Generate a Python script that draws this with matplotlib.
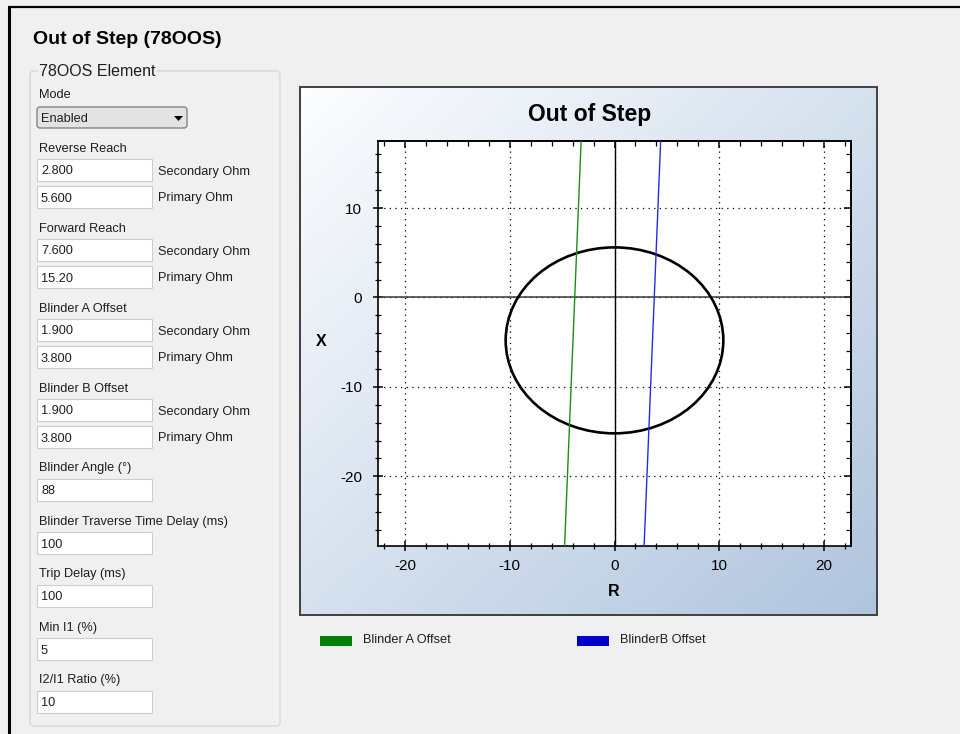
import numpy as np
import matplotlib.pyplot as plt
from matplotlib.patches import Rectangle, FancyBboxPatch, Circle, Polygon
from matplotlib.ticker import MultipleLocator

# Settings panel contents
page_title = "Out of Step (78OOS)"
group_title = "78OOS Element"
mode_value = "Enabled"
ohm_sections = ["Reverse Reach", "Forward Reach", "Blinder A Offset", "Blinder B Offset"]
secondary_values = ["2.800", "7.600", "1.900", "1.900"]
primary_values = ["5.600", "15.20", "3.800", "3.800"]
single_sections = ["Blinder Angle (\u00b0)", "Blinder Traverse Time Delay (ms)",
                   "Trip Delay (ms)", "Min I1 (%)", "I2/I1 Ratio (%)"]
single_values = ["88", "100", "100", "5", "10"]

# Chart values (primary ohms)
reverse_reach = float(primary_values[0])
forward_reach = float(primary_values[1])
blinder_offsets = [-float(primary_values[2]), float(primary_values[3])]
blinder_angle = float(single_values[0])
blinder_names = ["Blinder A Offset", "BlinderB Offset"]
blinder_line_colors = ["#1a8f1a", "#2a2ae6"]
blinder_key_colors = ["#008000", "#0000cc"]

plt.rcParams['font.family'] = ['Liberation Sans', 'DejaVu Sans']
plt.rcParams['axes.unicode_minus'] = False
TXT = '#1e1e1e'
SMALL = 9.2

fig = plt.figure(figsize=(9.6, 7.34), dpi=100)
fig.patch.set_facecolor('#f0f0f0')
bg = fig.add_axes([0, 0, 1, 1])
bg.set_xlim(0, 960)
bg.set_ylim(734, 0)
bg.axis('off')

# window frame
bg.plot([9, 9], [7, 734], color='black', lw=2.2, solid_capstyle='butt')
bg.plot([8, 960], [7, 7], color='black', lw=1.6, solid_capstyle='butt')

bg.text(33, 39, page_title, fontsize=14, fontweight='bold', color='black', va='center')

# group box
bg.add_patch(FancyBboxPatch((30, 71), 250, 655, boxstyle='round,pad=0,rounding_size=4',
                            fc='none', ec='#d3d9df', lw=1))
bg.text(39, 72, group_title, fontsize=11.5, color=TXT, va='center',
        bbox=dict(fc='#f0f0f0', ec='none', pad=1))

def label(y, s):
    bg.text(39, y + 1.5, s, fontsize=SMALL, color=TXT, va='center')

def textbox(y, s):
    bg.add_patch(Rectangle((37, y - 11), 115, 22, fc='white', ec='#c9ced4', lw=0.8))
    bg.text(41, y + 1.5, s, fontsize=SMALL, color=TXT, va='center')

label(93, "Mode")
bg.add_patch(FancyBboxPatch((37, 107), 150, 21, boxstyle='round,pad=0,rounding_size=3',
                            fc='#e3e3e3', ec='#7a7a7a', lw=0.9))
bg.text(41, 119, mode_value, fontsize=SMALL, color=TXT, va='center')
bg.add_patch(Polygon([[174, 116], [183, 116], [178.5, 121]], closed=True, fc='black', ec='none'))

y = 147
for name, sec, pri in zip(ohm_sections, secondary_values, primary_values):
    label(y, name)
    textbox(y + 23, sec)
    bg.text(158, y + 24.5, "Secondary Ohm", fontsize=SMALL, color=TXT, va='center')
    textbox(y + 50, pri)
    bg.text(158, y + 51.5, "Primary Ohm", fontsize=SMALL, color=TXT, va='center')
    y += 80
y = 467
for name, val in zip(single_sections, single_values):
    label(y, name)
    textbox(y + 23, val)
    y += 53

# chart panel with diagonal gradient
px0, px1, py0, py1 = 300, 877, 87, 615
gx, gy = np.meshgrid(np.linspace(0, 1, 300), np.linspace(0, 1, 280))
t = (gx + gy) / 2
c0 = np.array([0.99, 0.995, 1.0])
c1 = np.array([0.69, 0.77, 0.87])
grad = c0 + (c1 - c0) * t[..., None]
bg.imshow(grad, extent=(px0, px1, py1, py0), aspect='auto', interpolation='bilinear')
bg.add_patch(Rectangle((px0, py0), px1 - px0, py1 - py0, fc='none', ec='#404040', lw=1.4))
bg.set_xlim(0, 960)
bg.set_ylim(734, 0)

bg.text(590, 114, "Out of Step", fontsize=16.5, fontweight='bold', color='black',
        ha='center', va='center')
bg.text(321, 342, "X", fontsize=11.5, fontweight='bold', ha='center', va='center')
bg.text(614, 592, "R", fontsize=11.5, fontweight='bold', ha='center', va='center')

# legend
for (lx, tx), name, col in zip([(320, 363), (577, 620)], blinder_names, blinder_key_colors):
    bg.add_patch(Rectangle((lx, 636), 32, 10, fc=col, ec='none'))
    bg.text(tx, 640, name, fontsize=SMALL, color=TXT, va='center')

# impedance plot
ax = fig.add_axes([378 / 960, (734 - 546) / 734, 473 / 960, 405 / 734])
ax.set_facecolor('white')
xlim = (-22.6, 22.6)
ylim = (-27.8, 17.5)
ax.set_xlim(*xlim)
ax.set_ylim(*ylim)

ax.grid(True, which='major', color='black', linestyle=(0, (1, 3.5)), lw=0.9)
ax.axhline(0, color='#3a3a3a', lw=1.1, zorder=2)
ax.axvline(0, color='black', lw=1.0, zorder=2)

centre = (reverse_reach - forward_reach) / 2
radius = (reverse_reach + forward_reach) / 2
ax.add_patch(Circle((0, centre), radius, fill=False, ec='black', lw=1.9, zorder=3))

slope = 1 / np.tan(np.radians(blinder_angle))
for off, col in zip(blinder_offsets, blinder_line_colors):
    ys = np.array(ylim)
    ax.plot(off + slope * ys, ys, color=col, lw=1.0, zorder=3)

for axis in (ax.xaxis, ax.yaxis):
    axis.set_major_locator(MultipleLocator(10))
    axis.set_minor_locator(MultipleLocator(2))
ax.tick_params(which='major', direction='inout', length=7, width=1.1, labelsize=11, colors='black')
ax.tick_params(which='minor', direction='inout', length=5, width=0.9)
ax.tick_params(axis='x', pad=6)
ax.tick_params(axis='y', pad=8)
for sp in ax.spines.values():
    sp.set_linewidth(1.2)

top = ax.secondary_xaxis('top')
right = ax.secondary_yaxis('right')
for sec, axis in ((top, top.xaxis), (right, right.yaxis)):
    axis.set_major_locator(MultipleLocator(10))
    axis.set_minor_locator(MultipleLocator(2))
    sec.tick_params(which='major', direction='in', length=5, width=1.1, labelsize=0)
    sec.tick_params(which='minor', direction='in', length=3.5, width=0.9)
    sec.spines[:].set_linewidth(1.2)
top.set_xticklabels([])
right.set_yticklabels([])

fig.savefig('out.png', dpi=100, facecolor=fig.get_facecolor())
